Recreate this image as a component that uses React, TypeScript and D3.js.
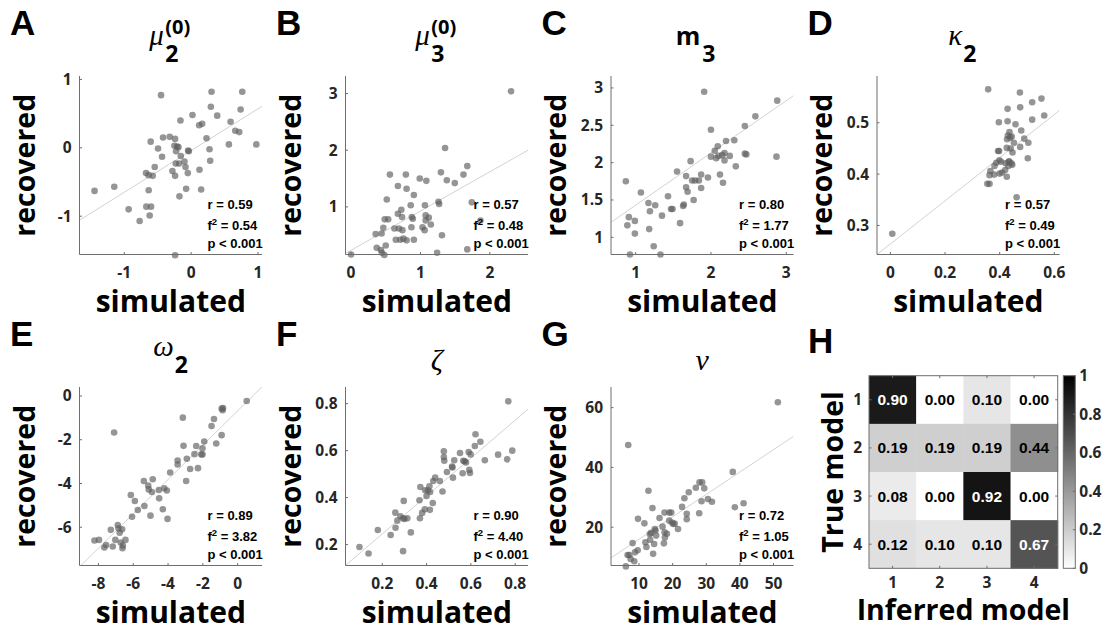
import React from "react";
import * as d3 from "d3";

type Pt = [number, number];

// simulated vs recovered parameter values, one array per panel
const muTwoPts: Pt[] = [
  [-1.445, -0.63], [-1.15, -0.57], [-0.935, -0.9], [-0.77, -1.07], [-0.67, -0.86], [-0.635, -0.62],
  [-0.62, -0.99], [-0.6, -0.86], [-0.675, -0.37], [-0.635, -0.4], [-0.575, -0.41], [-0.605, 0.09],
  [-0.545, -0.28], [-0.495, -0.01], [-0.45, 0.77], [-0.435, -0.13], [-0.42, 0.15], [-0.32, 0.16],
  [-0.28, -0.34], [-0.24, 0.13], [-0.25, 0.03], [-0.225, -0.05], [-0.24, -0.41], [-0.23, -0.23],
  [-0.19, 0.01], [-0.21, 0.02], [-0.18, -0.23], [-0.175, -0.71], [-0.16, 0.4], [-0.155, -0.12],
  [-0.1, -0.2], [-0.085, -0.28], [-0.075, -0.6], [-0.05, -0.37], [-0.045, -0.04], [-0.035, -0.05],
  [0.02, 0.48], [0.125, -0.32], [0.12, 0.33], [0.165, 0.35], [0.15, -0.61], [0.23, 0.14],
  [0.275, -0.02], [0.285, -0.19], [0.295, 0.6], [0.305, 0.82], [0.39, 0.47], [0.565, 0.05],
  [0.59, 0.38], [0.66, 0.25], [0.72, 0.23], [0.74, 0.56], [0.765, 0.82], [0.975, 0.05], [-0.24, -1.57],
];

const muThreePts: Pt[] = [
  [0, 0.16], [0.355, 0.52], [0.37, 0.28], [0.44, 0.53], [0.43, 0.24], [0.445, 0.19], [0.48, 0.15],
  [0.465, 0.63], [0.485, 0.78], [0.5, 0.32], [0.515, 1.13], [0.535, 0.78], [0.56, 1.57], [0.625, 0.62],
  [0.645, 0.42], [0.675, 1.37], [0.675, 0.88], [0.69, 0.62], [0.71, 0.42], [0.725, 0.95], [0.735, 0.82],
  [0.74, 0.59], [0.755, 0.44], [0.79, 1.57], [0.8, 1.32], [0.8, 0.41], [0.86, 1.03], [0.875, 0.82],
  [0.89, 0.79], [0.905, 1.21], [0.905, 0.42], [0.87, 0.64], [0.99, 1.5], [1.03, 0.64], [1.06, 0.59],
  [1.065, 1.03], [1.075, 0.85], [1.075, 0.76], [1.085, 1.46], [1.12, 0.81], [1.15, 0.69], [1.24, 0.19],
  [1.26, 1.09], [1.27, 1.05], [1.295, 1.61], [1.31, 0.5], [1.355, 2.04], [1.38, 1.47], [1.495, 1.42],
  [1.62, 1.57], [1.675, 1.72], [1.675, 0.25], [1.74, 1.08], [1.865, 0.76], [2.305, 3.04],
];

const mThreePts: Pt[] = [
  [0.87, 1.75], [0.89, 1.16], [0.91, 1.27], [0.925, 0.77], [0.99, 1.22], [0.99, 1.05], [1.07, 1.6],
  [1.17, 1.46], [1.18, 1.11], [1.19, 1.35], [1.24, 0.88], [1.26, 1.43], [1.33, 0.77], [1.35, 1.29],
  [1.43, 1.55], [1.47, 1.38], [1.49, 1.38], [1.55, 1.88], [1.59, 1.19], [1.63, 1.42], [1.64, 1.44],
  [1.67, 1.82], [1.67, 1.67], [1.69, 1.61], [1.73, 2.02], [1.75, 1.76], [1.77, 1.5], [1.79, 1.76],
  [1.84, 1.76], [1.87, 1.84], [1.87, 1.66], [1.91, 2.95], [1.96, 1.8], [2.0, 2.44], [2.0, 2.08],
  [2.05, 2.16], [2.07, 2.06], [2.09, 2.22], [2.1, 2.09], [2.12, 1.84], [2.15, 2.1], [2.16, 1.73],
  [2.18, 2.03], [2.18, 2.13], [2.2, 2.29], [2.25, 2.09], [2.31, 2.3], [2.33, 1.95], [2.45, 2.49],
  [2.45, 2.12], [2.47, 2.11], [2.59, 2.62], [2.87, 2.08], [2.88, 2.83],
];

const kappaTwoPts: Pt[] = [
  [0.007, 0.284], [0.358, 0.565], [0.355, 0.381], [0.363, 0.381], [0.366, 0.406], [0.363, 0.398],
  [0.38, 0.399], [0.381, 0.416], [0.388, 0.422], [0.397, 0.501], [0.394, 0.445], [0.398, 0.445],
  [0.399, 0.427], [0.4, 0.401], [0.405, 0.424], [0.409, 0.403], [0.42, 0.408], [0.422, 0.421],
  [0.426, 0.451], [0.426, 0.395], [0.429, 0.527], [0.429, 0.503], [0.43, 0.475], [0.432, 0.416],
  [0.433, 0.424], [0.436, 0.482], [0.438, 0.471], [0.443, 0.421], [0.446, 0.418], [0.444, 0.473],
  [0.447, 0.442], [0.452, 0.461], [0.458, 0.497], [0.462, 0.355], [0.475, 0.453], [0.475, 0.53],
  [0.474, 0.559], [0.479, 0.485], [0.49, 0.469], [0.505, 0.461], [0.503, 0.431], [0.519, 0.54],
  [0.519, 0.506], [0.553, 0.547], [0.563, 0.514], [0.427, 0.468], [0.44, 0.45], [0.435, 0.425],
];

const omegaTwoPts: Pt[] = [
  [-8.23, -6.61], [-7.97, -6.58], [-7.66, -6.93], [-7.56, -6.81], [-7.29, -6.12], [-7.18, -6.88],
  [-7.1, -1.67], [-7.03, -6.58], [-6.89, -5.9], [-6.85, -6.05], [-6.78, -6.25], [-6.72, -6.7],
  [-6.64, -6.09], [-6.62, -6.96], [-6.6, -6.84], [-6.45, -6.58], [-6.14, -4.53], [-6.07, -5.52],
  [-5.91, -4.8], [-5.74, -5.21], [-5.39, -3.89], [-5.36, -5.03], [-5.14, -4.1], [-5.11, -4.27],
  [-5.01, -5.47], [-4.93, -4.39], [-4.88, -3.81], [-4.53, -4.3], [-4.51, -4.68], [-4.3, -5.18],
  [-4.22, -4.22], [-4.07, -4.32], [-4.03, -5.62], [-3.88, -3.5], [-3.45, -2.95], [-3.45, -3.13],
  [-3.15, -0.99], [-3.11, -2.28], [-2.96, -3.89], [-2.92, -2.87], [-2.73, -3.34], [-2.48, -2.66],
  [-2.38, -2.29], [-2.28, -3.3], [-2.09, -2.67], [-2.02, -2.67], [-2.02, -2.39], [-1.92, -2.08],
  [-1.5, -1.37], [-1.36, -1.05], [-1.23, -2.17], [-0.92, -1.79], [-0.92, -0.58], [-0.84, -0.55],
  [-0.86, -0.65], [0.52, -0.23],
];

const zetaPts: Pt[] = [
  [0.097, 0.19], [0.138, 0.162], [0.18, 0.262], [0.238, 0.241], [0.259, 0.336], [0.26, 0.272],
  [0.268, 0.302], [0.282, 0.321], [0.294, 0.312], [0.297, 0.386], [0.294, 0.172], [0.3, 0.309],
  [0.313, 0.312], [0.329, 0.252], [0.368, 0.389], [0.37, 0.312], [0.372, 0.445], [0.38, 0.335],
  [0.392, 0.35], [0.394, 0.431], [0.4, 0.407], [0.406, 0.431], [0.413, 0.448], [0.415, 0.348],
  [0.416, 0.424], [0.428, 0.377], [0.43, 0.471], [0.439, 0.485], [0.46, 0.471], [0.472, 0.426],
  [0.478, 0.597], [0.478, 0.573], [0.48, 0.557], [0.492, 0.509], [0.515, 0.532], [0.517, 0.528],
  [0.519, 0.485], [0.525, 0.559], [0.551, 0.59], [0.563, 0.504], [0.566, 0.557], [0.572, 0.555],
  [0.578, 0.55], [0.59, 0.594], [0.593, 0.518], [0.596, 0.505], [0.599, 0.584], [0.618, 0.62],
  [0.621, 0.67], [0.643, 0.638], [0.663, 0.559], [0.723, 0.583], [0.764, 0.563], [0.769, 0.81],
  [0.787, 0.6],
];

const nuPts: Pt[] = [
  [6.1, 6.9], [6.6, 10.7], [7.1, 10.7], [7.5, 9.4], [6.8, 47.5], [8.1, 14.7], [8.6, 8.6], [8.8, 11.6],
  [9.6, 12.3], [9.7, 22.8], [11.6, 21.3], [11.9, 15.0], [12.2, 13.4], [12.8, 32.2], [13.2, 17.7],
  [13.3, 15.8], [13.6, 18.1], [14.0, 26.4], [14.2, 11.1], [14.5, 14.4], [14.7, 19.4], [14.9, 18.9],
  [15.1, 17.2], [16.1, 23.1], [17.0, 20.2], [17.4, 14.6], [17.6, 24.9], [17.6, 18.3], [17.7, 16.6],
  [18.3, 17.8], [19.0, 24.9], [19.0, 22.2], [19.6, 24.9], [19.8, 21.6], [20.2, 21.1], [20.6, 21.2],
  [21.6, 19.4], [22.8, 26.8], [23.5, 29.7], [24.2, 24.5], [24.2, 22.7], [24.8, 31.7], [26.9, 33.2],
  [27.9, 24.7], [28.0, 35.0], [28.6, 28.7], [28.8, 35.0], [29.4, 33.0], [30.5, 29.4], [31.7, 28.5],
  [37.9, 38.5], [38.5, 26.7], [41.1, 28.0], [51.3, 61.8],
];

// least-squares fit lines [slope, intercept]
const fitLines: Pt[] = [
  [0.61, -0.04], [0.692, 0.235], [0.7, 0.73], [0.42, 0.264], [0.785, -0.68], [0.807, 0.084], [0.749, 8.5],
];

// reported statistics: r, f²
const statR = ["0.59", "0.57", "0.80", "0.57", "0.89", "0.90", "0.72"];
const statF2 = ["0.54", "0.48", "1.77", "0.49", "3.82", "4.40", "1.05"];

// confusion matrix: rows = true model, cols = inferred model
const modelLabels = ["1", "2", "3", "4"];
const confusion = [
  [0.9, 0.0, 0.1, 0.0],
  [0.19, 0.19, 0.19, 0.44],
  [0.08, 0.0, 0.92, 0.0],
  [0.12, 0.1, 0.1, 0.67],
];
const colorbarTicks = [0, 0.2, 0.4, 0.6, 0.8, 1];

interface Title { main: string; greek: boolean; sub?: string; sup?: string; dx: number; gap: number }
interface Panel {
  letter: string;
  title: Title;
  pts: Pt[];
  xDom: [number, number];
  yDom: [number, number];
  xTicks: number[];
  yTicks: number[];
}

const panels: Panel[] = [
  { letter: "A", title: { main: "μ", greek: true, sub: "2", sup: "(0)", dx: -7, gap: 1.5 }, pts: muTwoPts,
    xDom: [-1.67, 1.06], yDom: [-1.56, 1.05], xTicks: [-1, 0, 1], yTicks: [-1, 0, 1] },
  { letter: "B", title: { main: "μ", greek: true, sub: "3", sup: "(0)", dx: -7, gap: 1.5 }, pts: muThreePts,
    xDom: [-0.08, 2.55], yDom: [0.16, 3.31], xTicks: [0, 1, 2], yTicks: [1, 2, 3] },
  { letter: "C", title: { main: "m", greek: false, sub: "3", dx: -2, gap: 2 }, pts: mThreePts,
    xDom: [0.673, 3.096], yDom: [0.77, 3.16], xTicks: [1, 2, 3], yTicks: [1, 1.5, 2, 2.5, 3] },
  { letter: "D", title: { main: "κ", greek: true, sub: "2", dx: -6, gap: 1 }, pts: kappaTwoPts,
    xDom: [-0.049, 0.619], yDom: [0.2435, 0.591], xTicks: [0, 0.2, 0.4, 0.6], yTicks: [0.3, 0.4, 0.5] },
  { letter: "E", title: { main: "ω", greek: true, sub: "2", dx: 3, gap: 1 }, pts: omegaTwoPts,
    xDom: [-9.09, 1.4], yDom: [-7.75, 0.41], xTicks: [-8, -6, -4, -2, 0], yTicks: [-6, -4, -2, 0] },
  { letter: "F", title: { main: "ζ", greek: true, dx: 0, gap: 0 }, pts: zetaPts,
    xDom: [0.034, 0.858], yDom: [0.111, 0.871], xTicks: [0.2, 0.4, 0.6, 0.8], yTicks: [0.2, 0.4, 0.6, 0.8] },
  { letter: "G", title: { main: "ν", greek: true, dx: 0, gap: 0 }, pts: nuPts,
    xDom: [1.67, 55.95], yDom: [7.2, 66.9], xTicks: [10, 20, 30, 40, 50], yTicks: [20, 40, 60] },
];

// layout
const colLeft = [79.5, 345.5, 611, 877];
const rowTop = [76, 387];
const axW = 182.5;
const axH = 178.5;
const sans = "'Open Sans', sans-serif";
const arial = "'Liberation Sans', Arial, sans-serif";
const serif = "'Liberation Serif', serif";
const ink = "#262626";
const axisColor = "#6e6e6e";
const tickSize = 15.5;

function fmtTick(v: number): string {
  return Number.isInteger(v) ? String(v) : String(+v.toFixed(2));
}

function ScatterPanel({ p, i }: { p: Panel; i: number }) {
  const left = colLeft[i % 4];
  const top = rowTop[Math.floor(i / 4)];
  const x = d3.scaleLinear().domain(p.xDom).range([left, left + axW]);
  const y = d3.scaleLinear().domain(p.yDom).range([top + axH, top]);
  const bottom = top + axH;
  const [slope, icpt] = fitLines[i];
  const line = d3.line<number>().x((v) => x(v)).y((v) => y(slope * v + icpt));
  const clipId = `clip${i}`;
  const cx = left + axW / 2;
  const t = p.title;
  return (
    <g>
      <defs>
        <clipPath id={clipId}>
          <rect x={left} y={top} width={axW} height={axH} />
        </clipPath>
      </defs>
      {/* panel letter */}
      <text x={left - 69.5} y={top - 41} fontFamily={arial} fontWeight="bold" fontSize={35} fill="#000">
        {p.letter}
      </text>
      {/* title */}
      {t.sub ? (
        <g>
          <text x={cx + t.dx} y={top - 31} textAnchor="end"
            fontFamily={t.greek ? serif : sans} fontStyle={t.greek ? "italic" : "normal"}
            fontWeight={t.greek ? "normal" : "bold"} fontSize={t.greek ? 29 : 25} fill="#000">
            {t.main}
          </text>
          <text x={cx + t.dx + t.gap} y={top - 14} fontFamily={sans} fontWeight="bold" fontSize={23} fill="#000">
            {t.sub}
          </text>
          {t.sup && (
            <text x={cx + t.dx + t.gap} y={top - 42} fontFamily={sans} fontWeight="bold" fontSize={20} fill="#000">
              {t.sup}
            </text>
          )}
        </g>
      ) : (
        <text x={cx} y={top - 17} textAnchor="middle" fontFamily={serif} fontStyle="italic" fontSize={30} fill="#000">
          {t.main}
        </text>
      )}
      {/* fit line */}
      <path d={line(p.xDom) ?? ""} stroke="#d2d2d2" strokeWidth={1} fill="none" clipPath={`url(#${clipId})`} />
      {/* points */}
      {p.pts.map(([sx, ry], k) => (
        <circle key={k} cx={x(sx)} cy={y(ry)} r={3.3} fill="#5e5e5e" fillOpacity={0.66} />
      ))}
      {/* axes */}
      <line x1={left} x2={left} y1={top} y2={bottom} stroke={axisColor} strokeWidth={1} />
      <line x1={left} x2={left + axW} y1={bottom} y2={bottom} stroke={axisColor} strokeWidth={1} />
      {p.xTicks.map((v) => (
        <g key={`x${v}`}>
          <line x1={x(v)} x2={x(v)} y1={bottom} y2={bottom - 2.5} stroke={axisColor} />
          <text x={x(v)} y={bottom + 23.5} textAnchor="middle" fontFamily={sans} fontWeight="bold" fontSize={tickSize} fill={ink}>
            {fmtTick(v)}
          </text>
        </g>
      ))}
      {p.yTicks.map((v) => (
        <g key={`y${v}`}>
          <line x1={left} x2={left + 2.5} y1={y(v)} y2={y(v)} stroke={axisColor} />
          <text x={left - 8} y={y(v) + 5.5} textAnchor="end" fontFamily={sans} fontWeight="bold" fontSize={tickSize} fill={ink}>
            {fmtTick(v)}
          </text>
        </g>
      ))}
      {/* axis labels */}
      <text x={cx} y={bottom + 57} textAnchor="middle" fontFamily={sans} fontWeight="bold" fontSize={30} fill="#000">
        simulated
      </text>
      <text transform={`translate(${left - 45},${top + axH / 2}) rotate(-90)`} textAnchor="middle"
        fontFamily={sans} fontWeight="bold" fontSize={28.5} fill="#000">
        recovered
      </text>
      {/* statistics */}
      <g fontFamily={arial} fontWeight="bold" fontSize={13} fill="#000">
        <text x={left + 128} y={bottom - 46}>r = {statR[i]}</text>
        <text x={left + 128} y={bottom - 25}>
          f<tspan dy={-5} fontSize={9.5}>2</tspan><tspan dy={5}> = {statF2[i]}</tspan>
        </text>
        <text x={left + 128} y={bottom - 7}>p &lt; 0.001</text>
      </g>
    </g>
  );
}

function ConfusionPanel() {
  const left = 869;
  const top = 375.7;
  const w = 188.7;
  const h = 192.6;
  const x = d3.scaleBand<string>().domain(modelLabels).range([left, left + w]);
  const y = d3.scaleBand<string>().domain(modelLabels).range([top, top + h]);
  const gray = (v: number) => d3.interpolateRgb("#ffffff", "#000000")(v);
  const cbLeft = 1063.3;
  const cbW = 12;
  const cbY = d3.scaleLinear().domain([0, 1]).range([top + h, top]);
  return (
    <g>
      <defs>
        <linearGradient id="cbGrad" x1="0" y1="1" x2="0" y2="0">
          <stop offset="0" stopColor="#ffffff" />
          <stop offset="1" stopColor="#000000" />
        </linearGradient>
      </defs>
      <text x={808} y={353} fontFamily={arial} fontWeight="bold" fontSize={35} fill="#000">H</text>
      {confusion.map((row, r) =>
        row.map((v, c) => (
          <g key={`${r}-${c}`}>
            <rect x={x(modelLabels[c])} y={y(modelLabels[r])} width={x.bandwidth() + 0.5} height={y.bandwidth() + 0.5} fill={gray(v)} />
            <text x={(x(modelLabels[c]) ?? 0) + x.bandwidth() / 2} y={(y(modelLabels[r]) ?? 0) + y.bandwidth() / 2 + 5.5}
              textAnchor="middle" fontFamily={arial} fontWeight="bold" fontSize={15.5}
              fill={v > 0.5 ? "#ffffff" : "#000000"}>
              {v.toFixed(2)}
            </text>
          </g>
        ))
      )}
      <rect x={left} y={top} width={w} height={h} fill="none" stroke={axisColor} strokeWidth={1} />
      {modelLabels.map((m) => {
        const cx = (x(m) ?? 0) + x.bandwidth() / 2;
        const cy = (y(m) ?? 0) + y.bandwidth() / 2;
        return (
          <g key={m}>
            <line x1={cx} x2={cx} y1={top + h} y2={top + h - 2.5} stroke={axisColor} />
            <line x1={cx} x2={cx} y1={top} y2={top + 2.5} stroke={axisColor} />
            <line x1={left} x2={left + 2.5} y1={cy} y2={cy} stroke={axisColor} />
            <line x1={left + w} x2={left + w - 2.5} y1={cy} y2={cy} stroke={axisColor} />
            <text x={cx} y={top + h + 20} textAnchor="middle" fontFamily={sans} fontWeight="bold" fontSize={tickSize} fill={ink}>{m}</text>
            <text x={left - 7} y={cy + 5.5} textAnchor="end" fontFamily={sans} fontWeight="bold" fontSize={tickSize} fill={ink}>{m}</text>
          </g>
        );
      })}
      <text x={left + w / 2} y={620} textAnchor="middle" fontFamily={sans} fontWeight="bold" fontSize={28.5} fill="#000">
        Inferred model
      </text>
      <text transform={`translate(843,${top + h / 2}) rotate(-90)`} textAnchor="middle" fontFamily={sans} fontWeight="bold" fontSize={28.5} fill="#000">
        True model
      </text>
      {/* colorbar */}
      <rect x={cbLeft} y={top} width={cbW} height={h} fill="url(#cbGrad)" stroke={axisColor} strokeWidth={1} />
      {colorbarTicks.map((v) => (
        <g key={v}>
          <line x1={cbLeft + cbW} x2={cbLeft + cbW - 2.5} y1={cbY(v)} y2={cbY(v)} stroke={axisColor} />
          <text x={cbLeft + cbW + 4} y={cbY(v) + 5.5} fontFamily={sans} fontWeight="bold" fontSize={tickSize} fill={ink}>
            {fmtTick(v)}
          </text>
        </g>
      ))}
    </g>
  );
}

export default function App() {
  return (
    <svg width={1105} height={632} viewBox="0 0 1105 632" style={{ display: "block", position: "absolute", left: 0, top: 0, background: "#fff" }}>
      <rect width={1105} height={632} fill="#fff" />
      {panels.map((p, i) => (
        <ScatterPanel key={p.letter} p={p} i={i} />
      ))}
      <ConfusionPanel />
    </svg>
  );
}
